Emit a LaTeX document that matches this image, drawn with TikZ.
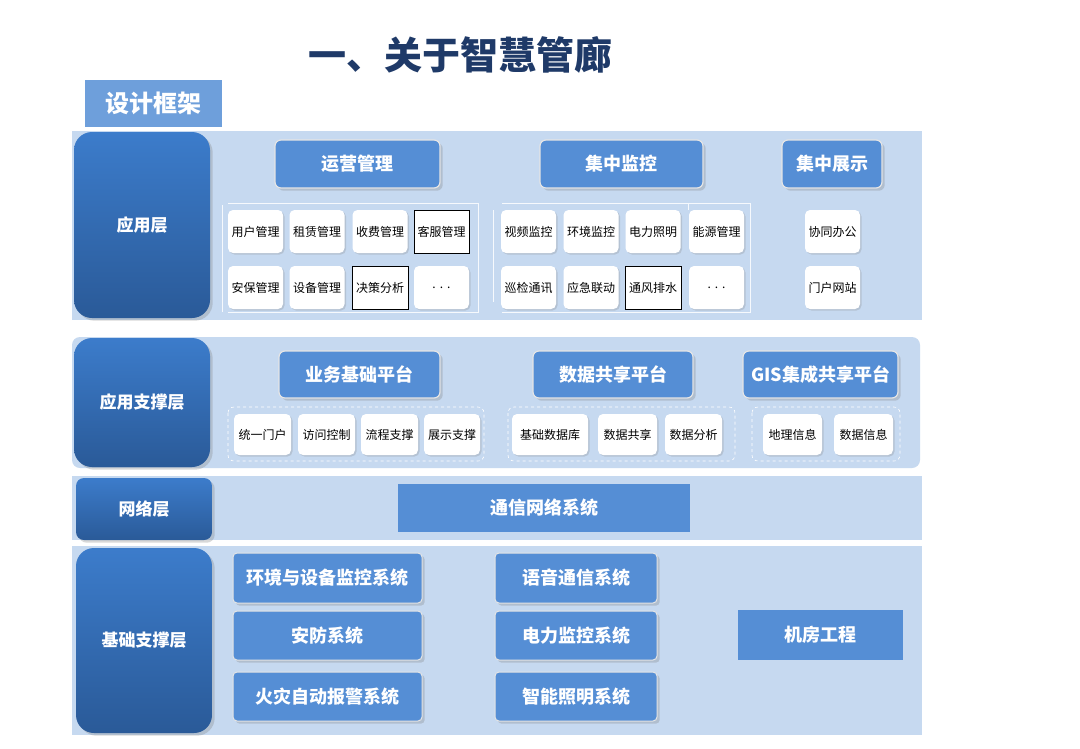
\documentclass[tikz,border=0pt]{standalone}
\usepackage{fontspec}
\setmainfont{Noto Sans CJK SC}
\usetikzlibrary{shadows}
\definecolor{band}{HTML}{C6D9F0}
\definecolor{hdr}{HTML}{558ED5}
\definecolor{navy}{HTML}{1F3A68}
\definecolor{pilltop}{HTML}{3C7CCB}
\definecolor{pillbot}{HTML}{2A5A98}
\begin{document}
\begin{tikzpicture}[x=1pt,y=-1pt,
 band/.style={fill=band,draw=none},
 pill/.style={rounded corners=18pt,top color=pilltop,bottom color=pillbot,draw=none,text=white,font=\bfseries\fontsize{17}{20}\selectfont,drop shadow={opacity=0.3}},
 hdr/.style={rounded corners=6pt,fill=hdr,draw=white!80!gray,line width=1.2pt,text=white,font=\bfseries\fontsize{18}{22}\selectfont,drop shadow={opacity=0.3}},
 sm/.style={rounded corners=5pt,fill=white,draw=none,font=\fontsize{12}{14}\selectfont,drop shadow={opacity=0.25,shadow xshift=1.5pt,shadow yshift=-1.5pt}},
 smk/.style={fill=white,draw=black,line width=0.8pt,font=\fontsize{12}{14}\selectfont},
 frm/.style={draw=white!85!band,line width=0.8pt},
 dfrm/.style={draw=white,dashed,line width=0.6pt,rounded corners=6pt},
 sys/.style={rounded corners=4pt,fill=hdr,draw=white!80!gray,line width=1pt,text=white,font=\bfseries\fontsize{18}{22}\selectfont,drop shadow={opacity=0.3}},
 flat/.style={fill=hdr,draw=none,text=white,font=\bfseries\fontsize{18}{22}\selectfont}]
\useasboundingbox (0,0) rectangle (1080,748);
\fill[white] (0,0) rectangle (1080,748);
\node[text=navy,font=\bfseries\fontsize{38}{44}\selectfont] (title) at (460,55) {一、关于智慧管廊};
\node[fill=hdr!85!white,text=white,font=\bfseries\fontsize{24}{28}\selectfont,minimum width=137pt,minimum height=47pt] (sj) at (153.5,103.5) {设计框架};
% bands
\fill[band] (72,131) rectangle (922,320);
\fill[band,rounded corners=8pt] (72,337) rectangle (920,468);
\fill[band] (72,476) rectangle (922,540);
\fill[band] (72,546) rectangle (922,735);
% pills
\node[pill,minimum width=136pt,minimum height=186pt] (p1) at (142,225) {应用层};
\node[pill,minimum width=136pt,minimum height=129pt] (p2) at (142,402.5) {应用支撑层};
\node[pill,rounded corners=8pt,minimum width=136pt,minimum height=62pt] (p3) at (144,509) {网络层};
\node[pill,minimum width=136pt,minimum height=185pt] (p4) at (144,640.5) {基础支撑层};
% band 1 headers
\node[hdr,minimum width=165pt,minimum height=48pt] (h1) at (357.5,164) {运营管理};
\node[hdr,minimum width=163pt,minimum height=48pt] (h2) at (621.5,164) {集中监控};
\node[hdr,minimum width=100pt,minimum height=48pt] (h3) at (832,164) {集中展示};
% frames
\draw[frm] (228,203) -- (478,203) -- (478,312) -- (228,312);
\draw[frm] (222,205) -- (222,312);
\draw[frm] (502,203) -- (750,203) -- (750,312) -- (502,312);
\draw[frm] (493,210) -- (493,302);
\draw[frm] (688,203) -- (688,210);
% small boxes band1
\foreach \n/\x/\y/\t in {a1/255.5/231.5/用户管理,a2/317/231.5/租赁管理,a3/380/231.5/收费管理,
 b1/255.5/287.5/安保管理,b2/317/287.5/设备管理,b4/441.5/287.5/{.\,\,.\,\,.},
 c1/528.5/231.5/视频监控,c2/591/231.5/环境监控,c3/653/231.5/电力照明,c4/716.5/231.5/能源管理,
 d1/528.5/287.5/巡检通讯,d2/591/287.5/应急联动,d4/716.5/287.5/{.\,\,.\,\,.},
 e1/832.5/231.5/协同办公,e2/832.5/287.5/门户网站}
 \node[sm,minimum width=55pt,minimum height=43pt,inner sep=0pt] (\n) at (\x,\y) {\t};
\node[smk,minimum width=55pt,minimum height=43pt,inner sep=0pt] (a4) at (441.5,231.5) {客服管理};
\node[smk,minimum width=56pt,minimum height=43pt,inner sep=0pt] (b3) at (380,287.5) {决策分析};
\node[smk,minimum width=56pt,minimum height=43pt,inner sep=0pt] (d3) at (653,287.5) {通风排水};
% band 2
\node[hdr,minimum width=161pt,minimum height=47pt] (g1) at (359.5,374.5) {业务基础平台};
\node[hdr,minimum width=160pt,minimum height=47pt] (g2) at (613,374.5) {数据共享平台};
\node[hdr,minimum width=155pt,minimum height=47pt] (g3) at (820.5,374.5) {GIS集成共享平台};
\draw[dfrm] (228,407) rectangle (484,461);
\draw[dfrm] (508,407) rectangle (735,461);
\draw[dfrm] (752,407) rectangle (900,461);
\foreach \n/\x/\w/\t in {f1/262.5/57/统一门户,f2/326.5/57/访问控制,f3/389.5/57/流程支撑,f4/452/56/展示支撑,
 f5/550/76/基础数据库,f6/627.5/59/数据共享,f7/693.5/57/数据分析,f8/792.5/59/地理信息,f9/863.5/59/数据信息}
 \node[sm,minimum width=\w pt,minimum height=41pt,inner sep=0pt] (\n) at (\x,434.5) {\t};
% band 3
\node[flat,minimum width=292pt,minimum height=48pt] (net) at (544,508) {通信网络系统};
% band 4
\node[sys,minimum width=189pt,minimum height=50pt] (s1) at (327.5,578) {环境与设备监控系统};
\node[sys,minimum width=189pt,minimum height=49pt] (s2) at (327.5,635.5) {安防系统};
\node[sys,minimum width=189pt,minimum height=49pt] (s3) at (327.5,696.5) {火灾自动报警系统};
\node[sys,minimum width=162pt,minimum height=50pt] (s4) at (576,578) {语音通信系统};
\node[sys,minimum width=162pt,minimum height=49pt] (s5) at (576,635.5) {电力监控系统};
\node[sys,minimum width=162pt,minimum height=49pt] (s6) at (576,696.5) {智能照明系统};
\node[flat,minimum width=165pt,minimum height=50pt] (s7) at (820.5,635) {机房工程};
\end{tikzpicture}
\end{document}
